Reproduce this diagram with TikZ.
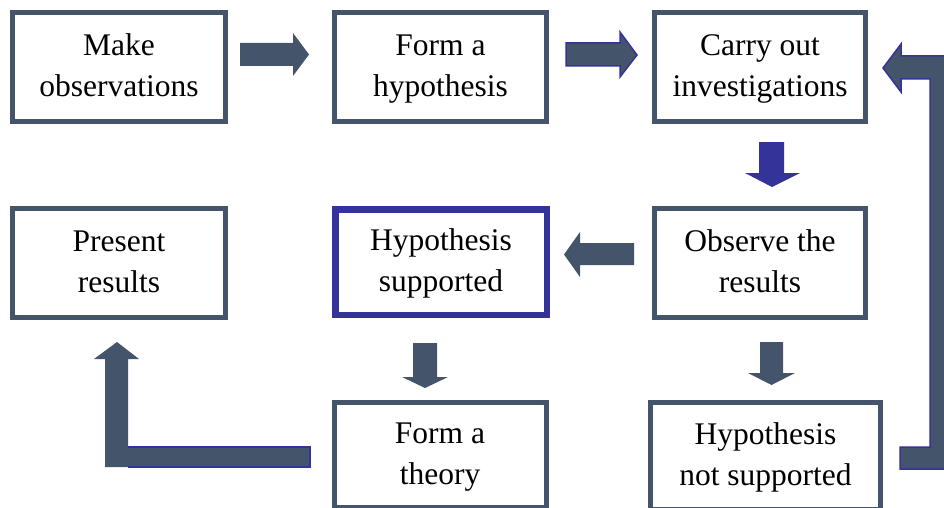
\documentclass[tikz,border=0pt]{standalone}
\usepackage{fontspec}
\setmainfont{Liberation Serif}
\definecolor{slate}{HTML}{44546A}
\definecolor{navy}{HTML}{333399}
\newcommand{\tstrut}{\rule[-7.5pt]{0pt}{33pt}}
\newcommand{\twolines}[2]{\tstrut#1\\#2\tstrut}
\begin{document}
\begin{tikzpicture}[x=1pt,y=-1pt,
  box/.style={draw=slate,line width=5pt,fill=white,inner sep=0pt,align=center,
    font=\rmfamily\fontsize{31.5}{41.5}\selectfont,minimum width=212pt,minimum height=109pt},
  bluebox/.style={box,draw=navy,line width=6.5pt},
  blockarrow/.style={fill=slate,draw=none},
  bluearrow/.style={fill=navy,draw=none},
  edged/.style={fill=slate,draw=navy,line width=1.5pt,line join=miter}]
\useasboundingbox (0,0) rectangle (944,508);
\clip (0,0) rectangle (944,508);
% boxes
\node[box,minimum width=213pt] (mo) at (119,67) {\twolines{Make}{observations}};
\node[box] (fh) at (440.5,67) {\twolines{Form a}{hypothesis}};
\node[box,minimum width=211pt] (co) at (760,67) {\twolines{Carry out}{investigations}};
\node[box,minimum width=213pt] (pr) at (119,263) {\twolines{Present}{results}};
\node[bluebox,minimum width=211.5pt,minimum height=105.5pt] (hs) at (441,262) {\twolines{Hypothesis}{supported}};
\node[box,minimum width=211pt] (ob) at (760,263) {\twolines{Observe the}{results}};
\node[box,minimum height=105pt] (ft) at (440,455) {\twolines{Form a}{theory}};
\node[box,minimum width=230pt,minimum height=107pt] (hn) at (765.5,456) {\twolines{Hypothesis}{not supported}};
% block arrows
\fill[blockarrow] (240,43) -- (293,43) -- (293,33) -- (309,54.5) -- (293,76) -- (293,66) -- (240,66) -- cycle;
\filldraw[edged] (566,43) -- (620,43) -- (620,32) -- (637,55) -- (620,77) -- (620,66) -- (566,66) -- cycle;
\fill[bluearrow] (759,142) -- (784,142) -- (784,173) -- (800,173) -- (772,187) -- (745,173) -- (759,173) -- cycle;
\fill[blockarrow] (634,243) -- (580,243) -- (580,232) -- (564,254.5) -- (580,277) -- (580,265) -- (634,265) -- cycle;
\fill[blockarrow] (413,343) -- (437,343) -- (437,377) -- (448,377) -- (425,388) -- (402,377) -- (413,377) -- cycle;
\fill[blockarrow] (760,342) -- (783,342) -- (783,373) -- (795,373) -- (771.5,385) -- (748,373) -- (760,373) -- cycle;
% L-shaped arrow: theory -> present results
\fill[blockarrow] (310,447) -- (128,447) -- (128,359) -- (139,359) -- (117,342) -- (94,359) -- (105,359) -- (105,467) -- (310,467) -- cycle;
\draw[navy,line width=1.5pt] (128,447) -- (310,447) -- (310,467) -- (128,467);
% L-shaped arrow: not supported -> carry out
\filldraw[edged] (960,469) -- (900,469) -- (900,447) -- (930,447) -- (930,79) -- (901,79) -- (901,92) -- (883,68) -- (901,44) -- (901,56) -- (960,56) -- cycle;
\end{tikzpicture}
\end{document}
